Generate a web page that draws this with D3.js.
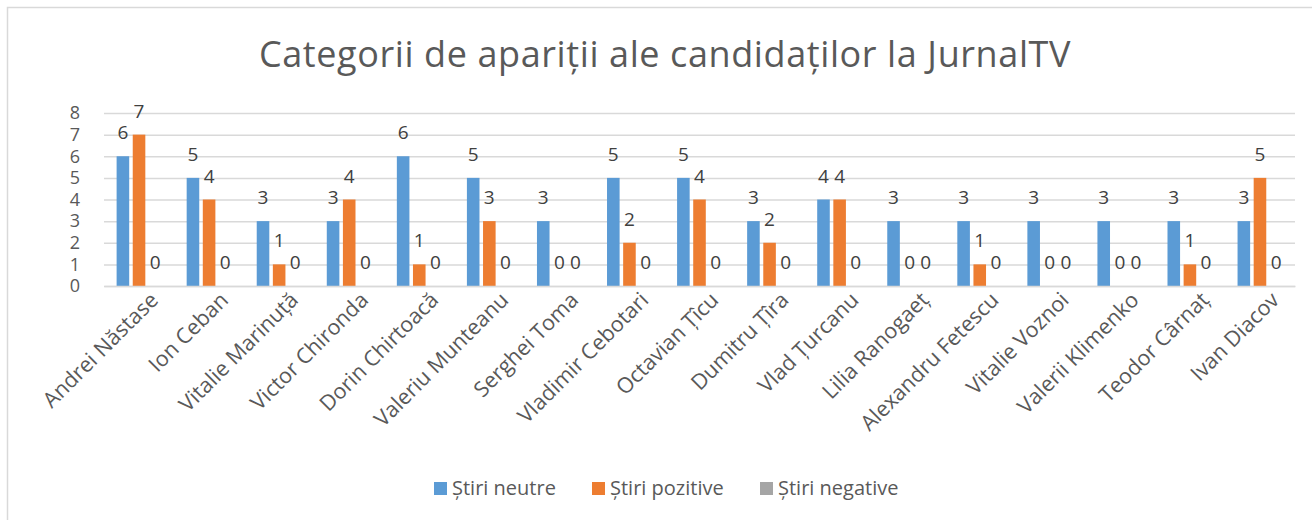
<!DOCTYPE html>
<html>
<head>
<meta charset="utf-8">
<script src="https://cdn.jsdelivr.net/npm/d3@7"></script>
<style>
  body{margin:0;background:#fff;}
  svg{font-family:"Open Sans",sans-serif;}
</style>
</head>
<body>
<svg id="chart"></svg>
<script>
const candidates = ["Andrei Năstase","Ion Ceban","Vitalie Marinuță","Victor Chironda","Dorin Chirtoacă",
  "Valeriu Munteanu","Serghei Toma","Vladimir Cebotari","Octavian Țîcu","Dumitru Țîra","Vlad Țurcanu",
  "Lilia Ranogaeț","Alexandru Fetescu","Vitalie Voznoi","Valerii Klimenko","Teodor Cârnaț","Ivan Diacov"];
const neutre   = [6,5,3,3,6,5,3,5,5,3,4,3,3,3,3,3,3];
const pozitive = [7,4,1,4,1,3,0,2,4,2,4,0,1,0,0,1,5];
const negative = [0,0,0,0,0,0,0,0,0,0,0,0,0,0,0,0,0];
const seriesNames = ["Știri neutre","Știri pozitive","Știri negative"];
const colors = ["#5b9bd5","#ed7d31","#a5a5a5"];
const yTicks = [0,1,2,3,4,5,6,7,8];

const W = 1312, H = 520;
const margin = {left:104, right:17, top:113, bottom:234};
const innerW = W - margin.left - margin.right;
const innerH = H - margin.top - margin.bottom;

const svg = d3.select("#chart").attr("width",W).attr("height",H);

svg.append("rect")
  .attr("x",7.5).attr("y",7.5)
  .attr("width",W).attr("height",H)
  .attr("fill","none").attr("stroke","#d9d9d9").attr("stroke-width",1.5);

svg.append("text")
  .attr("x",665).attr("y",67)
  .attr("text-anchor","middle")
  .attr("font-size",36)
  .attr("letter-spacing",0.6)
  .attr("fill","#595959")
  .text("Categorii de apariții ale candidaților la JurnalTV");

const data = candidates.map((c,i)=>({name:c, values:[neutre[i],pozitive[i],negative[i]]}));

const chart = svg.append("g").attr("transform",`translate(${margin.left},${margin.top})`);

const x0 = d3.scaleBand().domain(candidates).range([0,innerW]).paddingInner(0).paddingOuter(0);
const x1 = d3.scaleBand().domain([0,1,2]).range([x0.bandwidth()*0.18, x0.bandwidth()*0.82]).paddingInner(0.22);
const y = d3.scaleLinear().domain([0,8]).range([innerH,0]);

// grid
chart.append("g")
  .call(d3.axisLeft(y).tickValues(yTicks).tickSize(-innerW).tickFormat(""))
  .call(g=>g.select(".domain").remove())
  .call(g=>g.selectAll("line").attr("stroke","#d9d9d9").attr("stroke-width",1.5));

// y labels
chart.append("g")
  .call(d3.axisLeft(y).tickValues(yTicks).tickSize(0).tickPadding(24))
  .call(g=>g.select(".domain").remove())
  .call(g=>g.selectAll("text").attr("font-size",18).attr("fill","#595959").attr("font-family","Open Sans"));

const groups = chart.selectAll("g.grp").data(data).enter().append("g")
  .attr("class","grp")
  .attr("transform",d=>`translate(${x0(d.name)},0)`);

groups.selectAll("rect").data(d=>d.values).enter().append("rect")
  .attr("x",(v,i)=>x1(i))
  .attr("y",v=>y(v))
  .attr("width",x1.bandwidth())
  .attr("height",v=>innerH-y(v))
  .attr("fill",(v,i)=>colors[i]);

groups.selectAll("text").data(d=>d.values).enter().append("text")
  .attr("x",(v,i)=>x1(i)+x1.bandwidth()/2)
  .attr("y",v=>y(v)-17)
  .attr("text-anchor","middle")
  .attr("font-size",19)
  .attr("fill","#404040")
  .text(v=>v);

// x axis
const xAxis = chart.append("g")
  .attr("transform",`translate(0,${innerH})`)
  .call(d3.axisBottom(x0).tickSize(0).tickPadding(10));
xAxis.select(".domain").attr("stroke","#d9d9d9").attr("stroke-width",1.5);
xAxis.selectAll("text")
  .attr("font-size",21.5).attr("fill","#595959").attr("font-family","Open Sans")
  .attr("text-anchor","end")
  .attr("dy","0.35em")
  .attr("transform","translate(8,3) rotate(-45)");

// legend
const legendX = [434,592,760];
const legend = svg.append("g").selectAll("g").data(seriesNames).enter().append("g")
  .attr("transform",(d,i)=>`translate(${legendX[i]},482)`);
legend.append("rect").attr("width",13).attr("height",13).attr("fill",(d,i)=>colors[i]);
legend.append("text").attr("x",18).attr("y",13).attr("font-size",20).attr("fill","#595959").text(d=>d);
</script>
</body>
</html>
